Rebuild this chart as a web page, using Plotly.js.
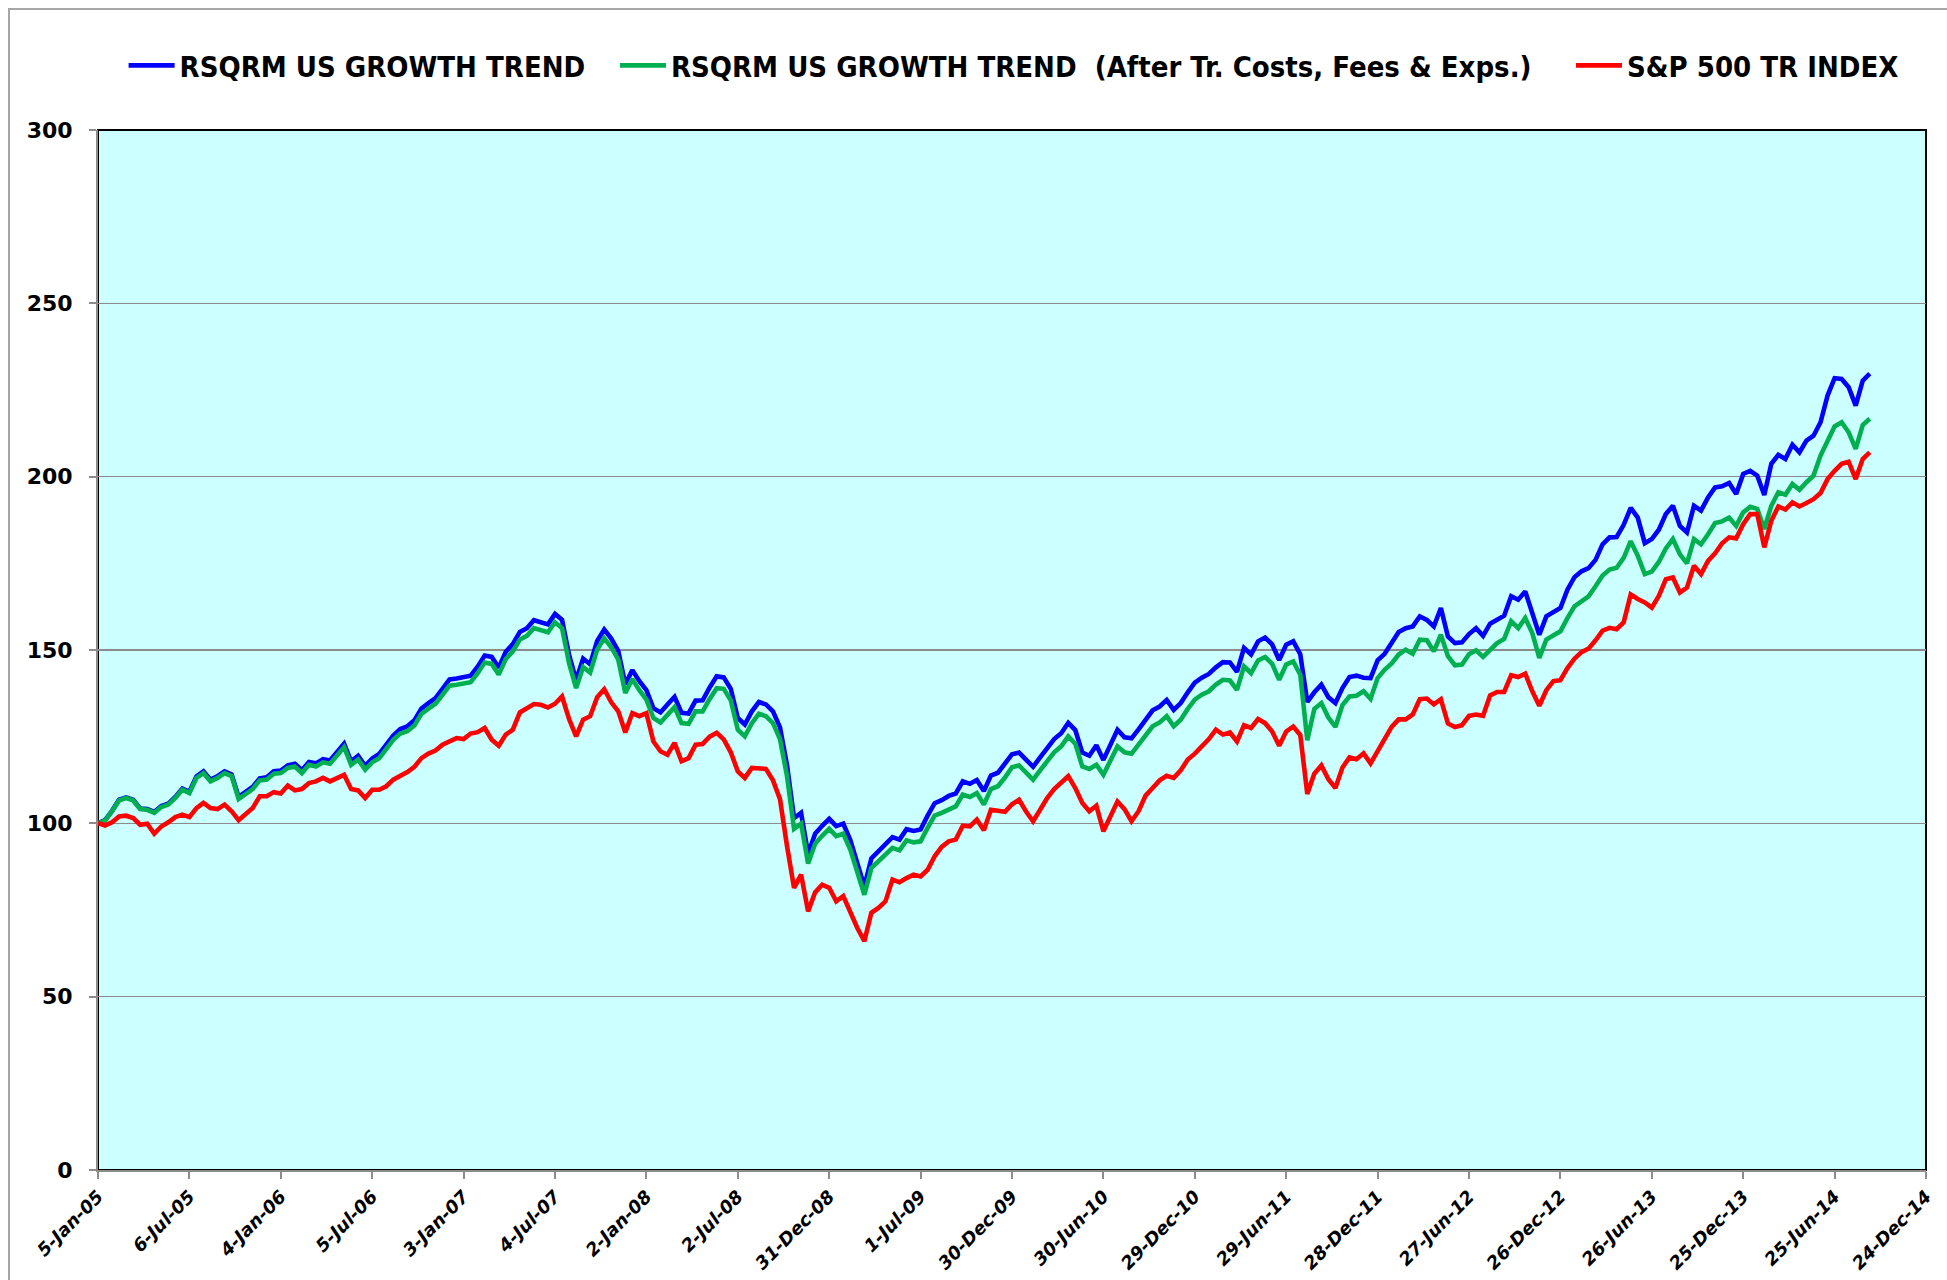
<!DOCTYPE html>
<html>
<head>
<meta charset="utf-8">
<script src="https://cdn.plot.ly/plotly-3.0.1.min.js"></script>
<style>
  html, body { margin: 0; padding: 0; background: #ffffff; overflow: hidden; }
  #frame {
    position: absolute; left: 8px; top: 8px; width: 1980px; height: 1300px;
    border: 2px solid #a6a6a6; pointer-events: none; z-index: 2;
  }
  #chart { position: absolute; left: 0; top: 0; width: 1947px; height: 1280px; }
</style>
</head>
<body>
<div id="chart"></div>
<div id="frame"></div>
<script>
// fortnightly readings, first one on 5-Jan-2005
const startDate = '2005-01-05';
const stepDays = 14;

const growthTrend = [
  100.0, 100.9, 103.6, 106.8, 107.5, 106.8, 104.3, 104.1, 103.3, 105.0,
  105.7, 107.6, 110.0, 109.1, 113.5, 115.0, 112.6, 113.6, 115.0, 114.1,
  107.6, 108.9, 110.5, 113.0, 113.3, 115.0, 115.2, 116.7, 117.2, 115.3,
  117.7, 117.3, 118.5, 118.1, 120.5, 123.0, 117.9, 119.5, 116.6, 118.7,
  120.0, 122.9, 125.3, 127.2, 128.0, 129.7, 133.1, 134.7, 136.1, 138.8,
  141.5, 141.8, 142.3, 142.6, 145.2, 148.4, 148.0, 144.9, 149.5, 151.7,
  155.2, 156.3, 158.6, 158.1, 157.4, 160.4, 158.7, 148.6, 141.3, 147.5,
  145.9, 152.6, 155.9, 153.3, 149.7, 140.1, 144.2, 141.0, 138.4, 133.2,
  132.0, 134.3, 136.5, 131.9, 131.7, 135.4, 135.5, 139.2, 142.4, 142.1,
  138.8, 130.4, 128.5, 132.3, 135.0, 134.3, 132.3, 127.7, 116.8, 101.5,
  103.0, 91.2, 97.0, 99.3, 101.3, 99.2, 99.9, 95.2, 88.3, 81.8,
  89.9, 91.9, 94.3, 96.0, 95.3, 98.3, 97.8, 98.2, 102.2, 105.8,
  106.7, 107.9, 108.6, 112.1, 111.4, 112.5, 109.3, 113.8, 114.6, 117.1,
  119.9, 120.4, 118.2, 116.3, 119.0, 121.7, 124.3, 126.0, 129.0, 126.9,
  120.4, 119.5, 122.5, 118.3, 123.0, 127.0, 124.8, 124.5, 127.1, 129.6,
  132.6, 133.7, 135.6, 132.7, 134.7, 137.8, 140.6, 142.0, 143.1, 145.0,
  146.5, 146.4, 143.7, 150.6, 148.7, 152.5, 153.6, 151.6, 147.1, 151.5,
  152.5, 148.8, 135.0, 137.8, 140.0, 136.4, 134.7, 139.0, 142.2, 142.6,
  142.0, 141.9, 147.0, 148.9, 152.2, 155.2, 156.3, 156.8, 159.7, 158.7,
  156.8, 162.1, 153.9, 152.0, 152.2, 154.6, 156.3, 154.1, 157.6, 158.7,
  159.9, 165.5, 164.5, 166.9, 160.9, 154.4, 159.7, 161.1, 162.1, 167.4,
  171.0, 172.7, 173.6, 176.0, 180.5, 182.5, 182.6, 186.1, 191.0, 188.2,
  180.8, 182.0, 184.7, 189.2, 191.6, 185.8, 183.9, 191.6, 190.2, 194.0,
  196.9, 197.2, 198.2, 195.0, 200.8, 201.7, 200.3, 194.7, 203.7, 206.3,
  205.1, 209.2, 207.0, 210.4, 211.8, 215.7, 223.4, 228.4, 228.2, 225.8,
  220.5, 227.7, 229.7
];

const growthTrendNet = [
  100.0, 100.8, 103.5, 106.6, 107.3, 106.6, 104.1, 103.9, 103.0, 104.7,
  105.4, 107.3, 109.7, 108.7, 113.1, 114.5, 112.1, 113.1, 114.5, 113.6,
  107.0, 108.3, 109.9, 112.4, 112.6, 114.3, 114.5, 116.0, 116.4, 114.5,
  116.9, 116.4, 117.6, 117.2, 119.5, 122.0, 116.9, 118.4, 115.5, 117.6,
  118.8, 121.7, 124.1, 125.9, 126.6, 128.2, 131.6, 133.1, 134.5, 137.1,
  139.7, 140.0, 140.5, 140.7, 143.3, 146.4, 146.0, 142.9, 147.4, 149.6,
  153.0, 154.1, 156.3, 155.8, 155.1, 158.0, 156.3, 146.2, 139.0, 145.1,
  143.5, 150.1, 153.4, 150.8, 147.2, 137.6, 141.6, 138.4, 135.7, 130.4,
  129.1, 131.3, 133.5, 128.9, 128.7, 132.3, 132.3, 135.9, 139.0, 138.8,
  135.5, 127.0, 125.1, 128.9, 131.6, 130.9, 128.9, 124.3, 113.6, 98.4,
  99.9, 88.4, 94.1, 96.4, 98.4, 96.3, 97.0, 92.4, 85.7, 79.4,
  87.1, 89.0, 91.3, 92.9, 92.2, 95.1, 94.5, 94.8, 98.7, 102.2,
  103.0, 104.1, 104.9, 108.3, 107.6, 108.7, 105.4, 109.9, 110.7, 113.2,
  116.2, 116.7, 114.4, 112.6, 115.3, 117.9, 120.5, 122.2, 125.1, 123.0,
  116.4, 115.7, 116.9, 114.0, 118.4, 122.2, 120.5, 120.1, 122.7, 125.1,
  128.0, 129.1, 130.9, 128.0, 129.9, 133.0, 135.7, 137.1, 138.1, 140.0,
  141.4, 141.2, 138.5, 145.3, 143.3, 147.0, 148.0, 146.0, 141.4, 145.8,
  146.7, 142.9, 124.0, 133.0, 134.7, 130.5, 127.8, 134.1, 136.6, 136.8,
  138.1, 135.9, 141.9, 144.3, 146.1, 148.7, 150.1, 148.9, 153.0, 152.8,
  149.6, 154.4, 148.2, 145.6, 145.8, 148.8, 149.9, 148.0, 150.1, 152.0,
  153.2, 158.3, 156.3, 159.2, 154.9, 147.7, 153.0, 154.1, 155.4, 159.2,
  162.6, 164.0, 165.5, 168.4, 171.5, 173.2, 173.7, 176.6, 181.4, 177.2,
  171.9, 172.6, 175.4, 179.3, 182.0, 177.6, 175.0, 182.0, 180.5, 183.4,
  186.6, 187.1, 188.2, 185.8, 189.7, 191.3, 190.7, 184.9, 191.6, 195.5,
  194.8, 197.9, 196.2, 198.4, 200.3, 206.1, 210.4, 214.5, 215.7, 212.8,
  208.0, 214.9, 216.7
];

const sp500tr = [
  100.1, 99.4, 100.3, 102.0, 102.2, 101.5, 99.6, 99.9, 97.0, 99.1,
  100.3, 101.8, 102.5, 101.8, 104.4, 105.9, 104.4, 104.1, 105.4, 103.5,
  100.9, 102.8, 104.4, 107.8, 107.8, 109.0, 108.6, 110.9, 109.5, 109.9,
  111.6, 112.1, 113.1, 112.1, 113.1, 114.0, 109.9, 109.5, 107.3, 109.7,
  109.7, 110.7, 112.6, 113.6, 114.8, 116.3, 118.8, 120.1, 121.0, 122.7,
  123.6, 124.6, 124.3, 125.9, 126.3, 127.5, 124.1, 122.4, 125.6, 127.0,
  132.0, 133.3, 134.4, 134.2, 133.4, 134.5, 136.6, 130.1, 125.1, 129.9,
  130.9, 136.4, 138.7, 134.9, 132.3, 126.2, 131.8, 130.9, 131.8, 123.6,
  120.8, 119.8, 123.2, 117.9, 118.8, 122.7, 122.9, 125.0, 126.1, 124.2,
  120.5, 115.0, 113.1, 116.0, 116.0, 115.7, 112.4, 107.0, 93.4, 81.4,
  85.2, 74.6, 80.1, 82.3, 81.4, 77.5, 79.0, 74.0, 69.8, 66.0,
  74.2, 75.6, 77.5, 83.8, 83.0, 84.2, 85.2, 84.7, 86.6, 90.5,
  93.2, 94.8, 95.3, 99.3, 99.1, 101.1, 98.0, 103.9, 103.7, 103.3,
  105.5, 106.8, 103.4, 100.6, 103.9, 107.3, 109.9, 111.8, 113.6, 110.2,
  105.9, 103.5, 105.1, 97.7, 102.0, 106.3, 104.1, 100.6, 103.5, 108.0,
  110.2, 112.4, 113.7, 113.1, 115.3, 118.4, 120.1, 122.2, 124.3, 127.0,
  125.6, 126.2, 123.6, 128.3, 127.5, 130.1, 128.9, 126.5, 122.4, 126.5,
  127.9, 125.5, 108.5, 114.3, 116.7, 112.7, 110.2, 116.1, 119.0, 118.5,
  120.2, 117.3, 120.8, 124.0, 127.8, 130.0, 130.0, 131.4, 135.8, 136.0,
  134.3, 135.8, 128.8, 127.8, 128.3, 131.0, 131.4, 131.0, 136.9, 137.9,
  137.9, 142.7, 142.2, 143.2, 138.1, 133.9, 138.4, 141.0, 141.3, 144.8,
  147.5, 149.4, 150.4, 152.8, 155.6, 156.4, 156.0, 158.0, 166.0, 164.7,
  163.7, 162.2, 165.6, 170.4, 170.9, 166.6, 168.0, 174.3, 171.9, 175.7,
  177.9, 180.8, 182.5, 182.2, 186.3, 189.2, 189.2, 179.6, 187.3, 191.4,
  190.5, 192.6, 191.4, 192.4, 193.5, 195.3, 199.3, 201.7, 203.7, 204.3,
  199.3, 205.1, 207.0
];

const seriesNames = [
  'RSQRM US GROWTH TREND',
  'RSQRM US GROWTH TREND \u00a0(After Tr. Costs, Fees &amp; Exps.)',
  'S&amp;P 500 TR INDEX'
];
const seriesColors = ['#0000ff', '#00b050', '#ff0000'];
const legendIds = ['legend', 'legend2', 'legend3'];
// left edge of each legend entry, paper fraction
const legendX = [0.0140, 0.2828, 0.8058];

// x axis: Excel style date axis, a label every 182 days
const axisStart = '2005-01-05';
const axisEnd = '2014-12-24';
const tickStepDays = 182;
const yTicks = [0, 50, 100, 150, 200, 250, 300];

function buildDates(first, step, count) {
  const t0 = Date.parse(first + 'T00:00:00Z');
  const out = [];
  for (let i = 0; i < count; i++) {
    out.push(new Date(t0 + i * step * 86400000).toISOString().slice(0, 10));
  }
  return out;
}

const dates = buildDates(startDate, stepDays, growthTrend.length);

function makeTrace(values, idx) {
  return {
    x: dates,
    y: values,
    type: 'scatter',
    mode: 'lines',
    name: seriesNames[idx],
    legend: legendIds[idx],
    line: { color: seriesColors[idx], width: 4.6 },
    hoverinfo: 'x+y+name'
  };
}

const traces = [
  makeTrace(growthTrend, 0),
  makeTrace(growthTrendNet, 1),
  makeTrace(sp500tr, 2)
];

function legendBox(x) {
  return {
    orientation: 'h',
    x: x,
    xanchor: 'left',
    y: 1.062,
    yanchor: 'middle',
    font: { family: 'DejaVu Sans Condensed, DejaVu Sans, sans-serif', size: 29, color: '#000000', weight: 'bold' },
    bgcolor: 'rgba(0,0,0,0)',
    borderwidth: 0,
    itemwidth: 46
  };
}

const layout = {
  width: 1947,
  height: 1280,
  autosize: false,
  margin: { l: 98, r: 21, t: 130, b: 110, pad: 0 },
  paper_bgcolor: 'rgba(0,0,0,0)',
  plot_bgcolor: '#ccffff',
  showlegend: true,
  legend: legendBox(legendX[0]),
  legend2: legendBox(legendX[1]),
  legend3: legendBox(legendX[2]),
  xaxis: {
    type: 'date',
    range: [axisStart, axisEnd],
    tick0: axisStart,
    dtick: tickStepDays * 86400000,
    tickformat: '%-d-%b-%y',
    tickangle: -45,
    ticks: 'outside',
    ticklen: 7,
    tickwidth: 2,
    tickcolor: '#8c8c8c',
    showgrid: false,
    showline: true,
    linecolor: '#8c8c8c',
    linewidth: 2,
    zeroline: false,
    tickfont: { family: 'DejaVu Sans, sans-serif', size: 18, color: '#000000', weight: 'bold', style: 'italic' }
  },
  yaxis: {
    range: [0, 300],
    tickmode: 'array',
    tickvals: yTicks,
    ticktext: yTicks.map(String),
    ticks: 'outside',
    ticklen: 7,
    tickwidth: 2,
    tickcolor: '#8c8c8c',
    ticklabelstandoff: 12,
    showgrid: true,
    gridcolor: '#8c8c8c',
    gridwidth: 1.5,
    showline: true,
    linecolor: '#8c8c8c',
    linewidth: 2,
    zeroline: false,
    tickfont: { family: 'DejaVu Sans, sans-serif', size: 22, color: '#000000', weight: 'bold' }
  },
  shapes: [{
    type: 'rect', xref: 'paper', yref: 'paper',
    x0: 0, x1: 1, y0: 0, y1: 1,
    line: { color: '#000000', width: 2 },
    fillcolor: 'rgba(0,0,0,0)',
    layer: 'below'
  }]
};

Plotly.newPlot('chart', traces, layout, { displayModeBar: false, staticPlot: true });
</script>
</body>
</html>
